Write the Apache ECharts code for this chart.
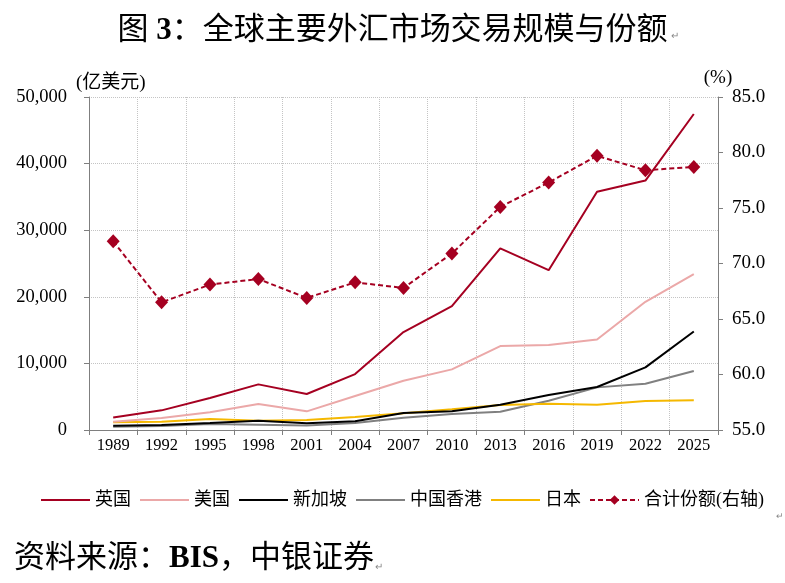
<!DOCTYPE html>
<html>
<head>
<meta charset="utf-8">
<script src="https://cdn.jsdelivr.net/npm/echarts@6/dist/echarts.min.js"></script>
<style>html,body{margin:0;padding:0;background:#fff;}#c{width:785px;height:583px;}</style>
</head>
<body>
<div id="c"></div>
<script>
var years = ['1989','1992','1995','1998','2001','2004','2007','2010','2013','2016','2019','2022','2025'];
var uk = [1870, 2950, 4800, 6850, 5400, 8400, 14700, 18600, 27260, 24000, 35760, 37450, 47450];
var us = [1250, 1800, 2650, 3900, 2800, 5100, 7400, 9100, 12600, 12750, 13600, 19250, 23400];
var singapore = [650, 750, 1050, 1400, 1000, 1300, 2550, 2800, 3800, 5250, 6450, 9400, 14800];
var hongkong = [500, 600, 900, 800, 670, 1050, 1850, 2400, 2750, 4400, 6400, 6950, 8850];
var japan = [1150, 1250, 1650, 1400, 1500, 1950, 2500, 3100, 3750, 3950, 3800, 4350, 4450];
var share = [72.0, 66.5, 68.1, 68.6, 66.9, 68.3, 67.8, 70.9, 75.1, 77.3, 79.7, 78.4, 78.7];
var leftTicks = [0, 10000, 20000, 30000, 40000, 50000];
var rightTicks = [55, 60, 65, 70, 75, 80, 85];
var seriesNames = ['英国','美国','新加坡','中国香港','日本','合计份额(右轴)'];

var FONT = '"Liberation Serif", "Noto Sans CJK SC", serif';
var chart = echarts.init(document.getElementById('c'), null, {renderer: 'canvas'});
function fmtThousands(v){ return v.toString().replace(/\B(?=(\d{3})+(?!\d))/g, ','); }
var axisGray = '#7f7f7f';
var gridGray = '#c4c4c4';
var option = {
  backgroundColor: '#ffffff',
  animation: false,
  textStyle: {fontFamily: FONT},
  title: {
    text: '图 {b|3}：全球主要外汇市场交易规模与份额',
    left: 'center',
    top: 10,
    textStyle: {
      fontFamily: FONT, fontSize: 31, fontWeight: 'normal', color: '#000',
      rich: {b: {fontFamily: FONT, fontSize: 31, fontWeight: 'bold', color: '#000'}}
    }
  },
  graphic: [
    {type: 'text', left: 14, top: 543, style: {
      text: '资料来源：{b|BIS}，中银证券', font: '31px ' + FONT, fill: '#000',
      rich: {b: {fontFamily: FONT, fontSize: 31, fontWeight: 'bold', fill: '#000'}}
    }},
    {type: 'text', left: 671, top: 31, style: {text: '↵', font: '10px ' + FONT, fill: '#888'}},
    {type: 'text', left: 375, top: 562, style: {text: '↵', font: '10px ' + FONT, fill: '#888'}},
    {type: 'text', left: 776, top: 512, style: {text: '↵', font: '9px ' + FONT, fill: '#888'}}
  ],
  legend: {
    left: 35, top: 486,
    itemWidth: 49, itemHeight: 12, itemGap: 8,
    textStyle: {fontFamily: FONT, fontSize: 18, color: '#000'},
    data: [
      {name: seriesNames[0], itemStyle: {opacity: 0}},
      {name: seriesNames[1], itemStyle: {opacity: 0}},
      {name: seriesNames[2], itemStyle: {opacity: 0}},
      {name: seriesNames[3], itemStyle: {opacity: 0}},
      {name: seriesNames[4], itemStyle: {opacity: 0}},
      {name: seriesNames[5]}
    ]
  },
  grid: {left: 89, right: 67, top: 97, bottom: 153, containLabel: false},
  xAxis: {
    type: 'category', data: years, boundaryGap: true,
    axisLine: {lineStyle: {color: axisGray, width: 1}},
    axisTick: {show: true, alignWithLabel: false, length: 5, lineStyle: {color: axisGray}},
    axisLabel: {fontFamily: FONT, fontSize: 16.5, color: '#000', margin: 7, interval: 0},
    splitLine: {show: true, interval: 0, lineStyle: {color: gridGray, type: 'dotted', width: 1}}
  },
  yAxis: [
    {
      type: 'value', min: 0, max: 50000, interval: 10000, position: 'left',
      name: '(亿美元)', nameLocation: 'end', nameGap: 4,
      nameTextStyle: {fontFamily: FONT, fontSize: 19, color: '#000', align: 'left', padding: [0, 0, 0, -13]},
      axisLine: {show: true, lineStyle: {color: axisGray, width: 1}},
      axisTick: {show: true, length: 5, lineStyle: {color: axisGray}},
      axisLabel: {fontFamily: FONT, fontSize: 18.5, color: '#000', margin: 22,
        formatter: function(v){ return leftTicks.indexOf(v) >= 0 ? fmtThousands(v) : ''; }},
      splitLine: {show: true, lineStyle: {color: gridGray, type: 'dotted', width: 1}}
    },
    {
      type: 'value', min: 55, max: 85, interval: 5, position: 'right',
      name: '(%)', nameLocation: 'end', nameGap: 4,
      nameTextStyle: {fontFamily: FONT, fontSize: 19, color: '#000', align: 'center'},
      axisLine: {show: true, lineStyle: {color: axisGray, width: 1}},
      axisTick: {show: true, length: 5, lineStyle: {color: axisGray}},
      axisLabel: {fontFamily: FONT, fontSize: 19, color: '#000', margin: 14,
        formatter: function(v){ return rightTicks.indexOf(v) >= 0 ? v.toFixed(1) : ''; }},
      splitLine: {show: false}
    }
  ],
  series: [
    {name: seriesNames[0], type: 'line', data: uk, yAxisIndex: 0, showSymbol: false, symbol: 'none',
      lineStyle: {color: '#A50021', width: 2}, itemStyle: {color: '#A50021'}, z: 5},
    {name: seriesNames[1], type: 'line', data: us, yAxisIndex: 0, showSymbol: false, symbol: 'none',
      lineStyle: {color: '#EBA8A8', width: 2}, itemStyle: {color: '#EBA8A8'}, z: 4},
    {name: seriesNames[2], type: 'line', data: singapore, yAxisIndex: 0, showSymbol: false, symbol: 'none',
      lineStyle: {color: '#000000', width: 2}, itemStyle: {color: '#000000'}, z: 4},
    {name: seriesNames[3], type: 'line', data: hongkong, yAxisIndex: 0, showSymbol: false, symbol: 'none',
      lineStyle: {color: '#808080', width: 2}, itemStyle: {color: '#808080'}, z: 3},
    {name: seriesNames[4], type: 'line', data: japan, yAxisIndex: 0, showSymbol: false, symbol: 'none',
      lineStyle: {color: '#F5B800', width: 2}, itemStyle: {color: '#F5B800'}, z: 3},
    {name: seriesNames[5], type: 'line', data: share, yAxisIndex: 1,
      symbol: 'diamond', symbolSize: [13, 14], showSymbol: true,
      lineStyle: {color: '#A50021', width: 2, type: [5, 3]}, itemStyle: {color: '#A50021'}, z: 6}
  ]
};
chart.setOption(option);
</script>
</body>
</html>
